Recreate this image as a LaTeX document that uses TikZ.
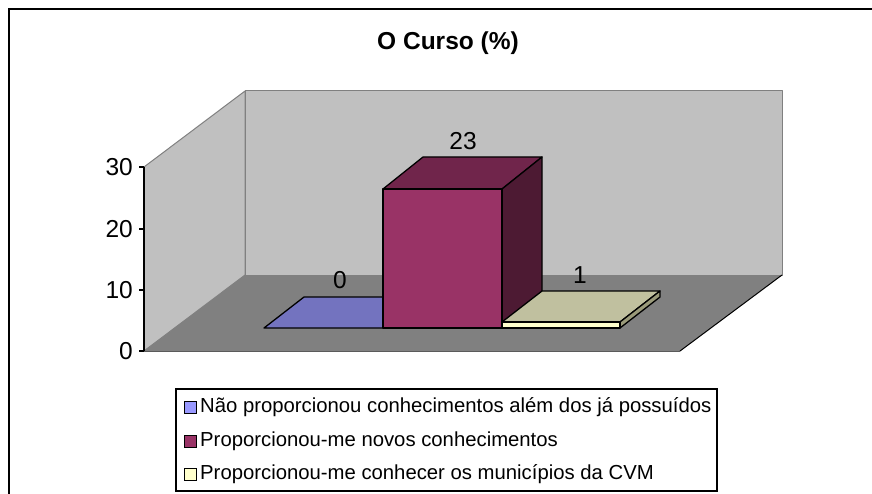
\documentclass[tikz,border=0pt]{standalone}
\usepackage{fontspec}
\setmainfont{Liberation Sans}
\definecolor{wallc}{HTML}{C0C0C0}
\definecolor{floorc}{HTML}{808080}
\definecolor{blueF}{HTML}{9999FF}
\definecolor{blueT}{HTML}{7373BF}
\definecolor{plumF}{HTML}{993366}
\definecolor{plumT}{HTML}{70254B}
\definecolor{plumS}{HTML}{4D1A33}
\definecolor{creamF}{HTML}{FFFFCC}
\definecolor{creamT}{HTML}{C0C09F}
\definecolor{creamS}{HTML}{9A9A7A}
\begin{document}
\begin{tikzpicture}[x=1pt,y=-1pt,
  wall/.style={fill=wallc,draw=floorc,line width=1pt,line join=round},
  barface/.style={draw=black,line width=1.3pt,line join=round},
  numlab/.style={font=\fontsize{24.5}{28}\selectfont,inner sep=0pt},
  ticklab/.style={numlab,anchor=east},
  legtext/.style={font=\fontsize{20.3}{24}\selectfont,anchor=west,inner sep=0pt},
  legmark/.style={draw=black,line width=0.9pt,minimum size=12pt,inner sep=0pt}]
\useasboundingbox (0,0) rectangle (872,494);
% outer frame
\begin{scope}
  \clip (0,0) rectangle (872,494);
  \draw[line width=2pt] (9,9) rectangle (900,520);
\end{scope}
% title
\node[font=\fontsize{24.5}{28}\selectfont\bfseries,inner sep=0pt] (title) at (448,43) {O Curso (\%)};
% walls
\draw[wall] (144,167) -- (245,91) -- (245,275) -- (144,351) -- cycle;
\draw[wall] (245,91) rectangle (782,275);
\fill[floorc] (144,351) -- (245,275) -- (782,275) -- (680,351) -- cycle;
\draw[black,line width=1pt] (782,275) -- (680,351);
\draw[floorc!70!black,line width=1pt] (144,351) -- (680,351);
% axis
\draw[black,line width=1.2pt] (144,167) -- (144,351);
\foreach \y/\v in {167/30,229/20,290/10,351/0}{
  \draw[black,line width=1.2pt] (139,\y) -- (144,\y);
  \node[ticklab] (t\v) at (133,\y) {\v};
}
% bar 1 (0)
\draw[barface,fill=blueT] (264,328) -- (304,297) -- (423,297) -- (383,328) -- cycle;
% bar 2 (23)
\draw[barface,fill=plumT] (383,189) -- (423,157) -- (542,157) -- (502,189) -- cycle;
\draw[barface,fill=plumS] (502,189) -- (542,157) -- (542,297) -- (502,328) -- cycle;
\draw[barface,fill=plumF] (383,189) rectangle (502,328);
% bar 3 (1)
\draw[barface,fill=creamT] (502,322) -- (542,291) -- (660,291) -- (620,322) -- cycle;
\draw[barface,fill=creamS] (620,322) -- (660,291) -- (660,297) -- (620,328) -- cycle;
\draw[barface,fill=creamF] (502,322) rectangle (620,328);
% value labels
\node[numlab] (v1) at (340,280) {0};
\node[numlab] (v2) at (463,141) {23};
\node[numlab] (v3) at (580,275) {1};
% legend
\draw[black,line width=1.2pt] (176,389) rectangle (717,491);
\node[legmark,fill=blueF] (m1) at (190,407) {};
\node[legmark,fill=plumF] (m2) at (190,441.5) {};
\node[legmark,fill=creamF] (m3) at (190,474) {};
\node[legtext] (l1) at (200,407) {Não proporcionou conhecimentos além dos já possuídos};
\node[legtext] (l2) at (200,441.5) {Proporcionou-me novos conhecimentos};
\node[legtext] (l3) at (200,474) {Proporcionou-me conhecer os municípios da CVM};
\end{tikzpicture}
\end{document}
